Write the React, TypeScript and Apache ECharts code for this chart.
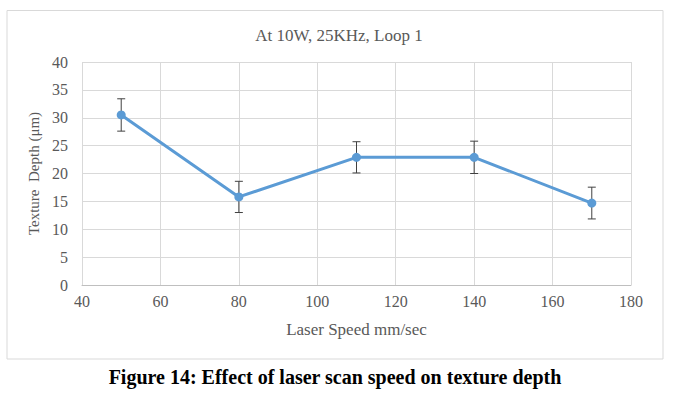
import React, { useEffect, useRef } from "react";
import * as echarts from "echarts";

const speeds = [50, 80, 110, 140, 170];
const depths = [30.5, 15.8, 22.9, 22.9, 14.7];
const errors = [2.9, 2.8, 2.8, 2.9, 2.85];

const FONT = "'Liberation Serif', 'Times New Roman', serif";
const GRAY = "#595959";

export default function App() {
  const ref = useRef<HTMLDivElement>(null);
  useEffect(() => {
    document.body.style.margin = "0";
    const chart = echarts.init(ref.current!, null, { renderer: "svg" });
    const errData = speeds.map((s, i) => [s, depths[i] - errors[i], depths[i] + errors[i]]);
    chart.setOption({
      animation: false,
      backgroundColor: "#ffffff",
      title: {
        text: "At 10W, 25KHz, Loop 1",
        left: 334,
        top: 22,
        textAlign: "center",
        textStyle: { fontFamily: FONT, fontSize: 17, fontWeight: "normal", color: GRAY },
      },
      graphic: [
        {
          type: "rect",
          shape: { x: 7, y: 10.5, width: 656, height: 348.5 },
          style: { fill: "none", stroke: "#d9d9d9", lineWidth: 1 },
          z: -1,
        },
        {
          type: "text",
          x: 335,
          y: 377,
          style: {
            text: "Figure 14: Effect of laser scan speed on texture depth",
            fontFamily: FONT,
            fontSize: 20,
            fontWeight: "bold",
            fill: "#000000",
            align: "center",
            verticalAlign: "middle",
          },
        },
      ],
      grid: { left: 82, right: 42, top: 62, bottom: 109 },
      xAxis: {
        type: "value",
        min: 40,
        max: 180,
        interval: 20,
        name: "Laser Speed mm/sec",
        nameLocation: "middle",
        nameGap: 36,
        nameTextStyle: { fontFamily: FONT, fontSize: 17, color: GRAY },
        axisLine: { show: true, lineStyle: { color: "#bfbfbf", width: 1 } },
        axisTick: { show: false },
        axisLabel: { fontFamily: FONT, fontSize: 16, color: GRAY, margin: 8 },
        splitLine: { show: true, lineStyle: { color: "#d9d9d9", width: 1 } },
      },
      yAxis: {
        type: "value",
        min: 0,
        max: 40,
        interval: 5,
        name: "Texture  Depth (μm)",
        nameLocation: "middle",
        nameGap: 34,
        nameRotate: 90,
        nameTextStyle: { fontFamily: FONT, fontSize: 15, color: GRAY },
        axisLine: { show: false },
        axisTick: { show: false },
        axisLabel: { fontFamily: FONT, fontSize: 16, color: GRAY, margin: 14 },
        splitLine: { show: true, lineStyle: { color: "#d9d9d9", width: 1 } },
      },
      series: [
        {
          type: "custom",
          data: errData,
          z: 1,
          renderItem: (params: any, api: any) => {
            const x = api.value(0);
            const lo = api.coord([x, api.value(1)]);
            const hi = api.coord([x, api.value(2)]);
            const w = 4;
            const style = { stroke: "#404040", lineWidth: 1 };
            return {
              type: "group",
              children: [
                { type: "line", shape: { x1: lo[0], y1: lo[1], x2: hi[0], y2: hi[1] }, style },
                { type: "line", shape: { x1: hi[0] - w, y1: hi[1], x2: hi[0] + w, y2: hi[1] }, style },
                { type: "line", shape: { x1: lo[0] - w, y1: lo[1], x2: lo[0] + w, y2: lo[1] }, style },
              ],
            };
          },
        },
        {
          type: "line",
          data: speeds.map((s, i) => [s, depths[i]]),
          symbol: "circle",
          symbolSize: 9,
          lineStyle: { color: "#5B9BD5", width: 3 },
          itemStyle: { color: "#5B9BD5" },
          z: 2,
        },
      ],
    });
    return () => chart.dispose();
  }, []);
  return <div ref={ref} style={{ width: 673, height: 394 }} />;
}
